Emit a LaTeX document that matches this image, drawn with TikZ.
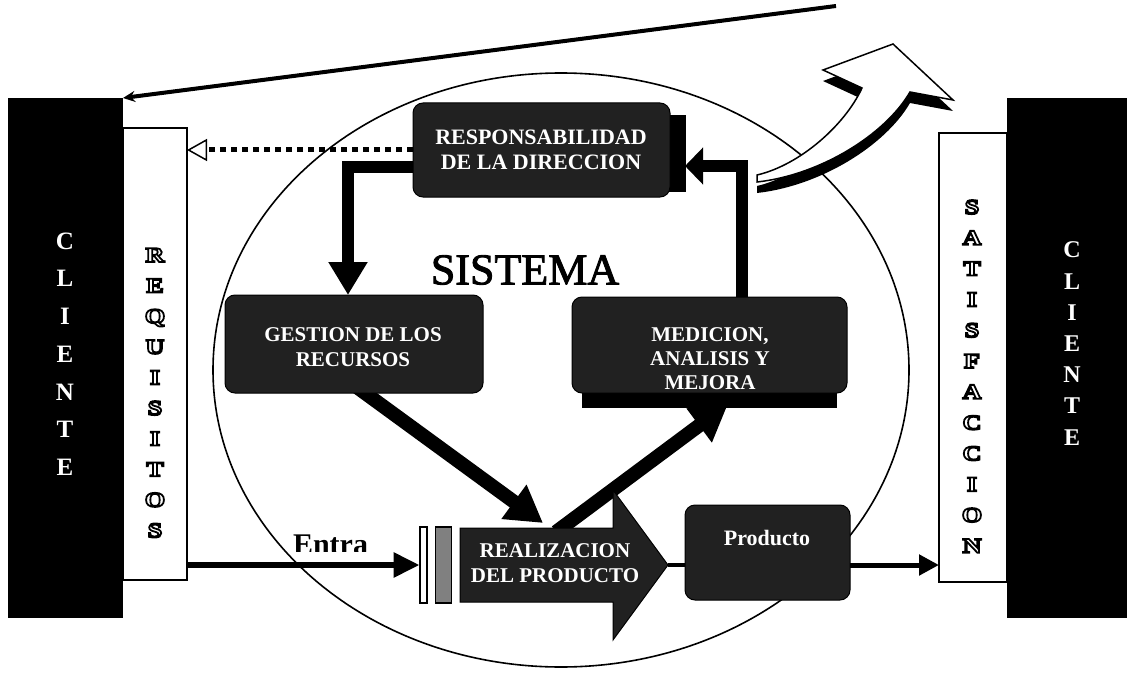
\documentclass[tikz,border=0pt]{standalone}
\usepackage{fontspec}
\setmainfont{Liberation Serif}
\usetikzlibrary{arrows.meta,shapes.geometric}

\definecolor{boxdark}{gray}{0.13}
\definecolor{bargray}{gray}{0.5}

% white letter with a black stroked outline (fill and stroke render mode)
\newcommand\hollowtxt[1]{%
  \textcolor{white}{\special{pdf:literal direct 2 Tr 1.8 w 0 G}#1\special{pdf:literal direct 0 Tr}}}
% heavier title lettering
\newcommand\heavytxt[1]{%
  {\special{pdf:literal direct 2 Tr 0.9 w}#1\special{pdf:literal direct 0 Tr}}}

\pgfdeclarelayer{bg}
\pgfdeclarelayer{back}
\pgfsetlayers{bg,back,main}

\begin{document}
\begin{tikzpicture}[x=1pt,y=-1pt,
  every node/.style={inner sep=0pt,outer sep=0pt},
  strip/.style={draw=black,line width=2pt,fill=white},
  darkbox/.style={draw=black,line width=1pt,fill=boxdark,rounded corners=10pt},
  boxlbl/.style={text=white,font=\bfseries\fontsize{21}{25}\selectfont,align=center},
  clletter/.style={text=white,font=\bfseries\fontsize{25}{25}\selectfont,text height=16.5pt,text depth=0pt},
  crletter/.style={text=white,font=\bfseries\fontsize{24}{24}\selectfont,text height=15.9pt,text depth=0pt},
  hollowletter/.style={font=\bfseries\fontsize{21}{21}\selectfont\addfontfeature{FakeStretch=1.25},text height=13.9pt,text depth=0pt},
  bigarrow/.style={line width=12pt,-{Triangle[length=33pt,width=37pt]}},
  diagarrow/.style={line width=14pt,-{Triangle[length=36pt,width=40pt]}},
  flow/.style={line width=5pt},
]
\useasboundingbox (0,0) rectangle (1127,674);

% the system boundary
\begin{pgfonlayer}{bg}
\node[draw=black,line width=1.6pt,ellipse,minimum width=696pt,minimum height=594pt] (sys) at (561,370) {};
\end{pgfonlayer}

% requirement and satisfaction strips
\node[strip,minimum width=64pt,minimum height=452pt] (req) at (155,354) {};
\node[strip,minimum width=68pt,minimum height=449pt] (sat) at (973,357.5) {};

% client columns
\node[fill=black,minimum width=115pt,minimum height=520pt] (cliL) at (65.5,358) {};
\node[fill=black,minimum width=120pt,minimum height=520pt] (cliR) at (1067,358) {};

\foreach \ch [count=\i from 0] in {C,L,I,E,N,T,E}
  \node[clletter] (cl\i) at (65,{241+37.7*\i}) {\ch};
\foreach \ch [count=\i from 0] in {C,L,I,E,N,T,E}
  \node[crletter] (cr\i) at (1072,{250+31.2*\i}) {\ch};
\foreach \ch [count=\i from 0] in {R,E,Q,U,I,S,I,T,O,S}
  \node[hollowletter] (rq\i) at (155,{255+30.6*\i}) {\hollowtxt{\ch}};
\foreach \ch [count=\i from 0] in {S,A,T,I,S,F,A,C,C,I,O,N}
  \node[hollowletter] (st\i) at (972,{207+30.8*\i}) {\hollowtxt{\ch}};

% process boxes
\fill[black] (600,115) rectangle (686,192);
\node[darkbox,minimum width=257pt,minimum height=94pt] (resp) at (541.5,150) {};
\node[darkbox,minimum width=258pt,minimum height=98pt] (gest) at (354,344) {};
\fill[black] (582,380) rectangle (837,408);
\node[darkbox,minimum width=275pt,minimum height=96pt] (med) at (709.5,345) {};
\node[darkbox,minimum width=165pt,minimum height=95pt] (prod) at (767.5,552.5) {};

% product realisation block arrow and input bars
\filldraw[fill=boxdark,draw=black,line width=1pt]
  (460,528) -- (613,528) -- (613,490) -- (668,565) -- (613,640) -- (613,602) -- (460,602) -- cycle;
\coordinate (realtip) at (668,565);
\coordinate (realIn) at (543,523);
\coordinate (realOut) at (556,532);
\coordinate (medIn) at (728,404);
\node[draw=black,line width=2pt,fill=white,minimum width=7pt,minimum height=76pt] (bar1) at (423,565) {};
\node[draw=black,line width=1.5pt,fill=bargray,minimum width=16pt,minimum height=76pt] (bar2) at (443.5,565) {};

% labels
\node[boxlbl,font=\bfseries\fontsize{22}{25}\selectfont] (resplbl) at (541,150) {RESPONSABILIDAD\\DE LA DIRECCION};
\node[boxlbl] (gestlbl) at (353,347) {GESTION DE LOS\\RECURSOS};
\node[boxlbl,font=\bfseries\fontsize{21}{24}\selectfont] (medlbl) at (710,359) {MEDICION,\\ANALISIS Y\\MEJORA};
\node[boxlbl] (reallbl) at (555,563) {REALIZACION\\DEL PRODUCTO};
\node[boxlbl,font=\bfseries\fontsize{22}{22}\selectfont] (prodlbl) at (767,538) {Producto};

\node[font=\fontsize{44}{44}\selectfont] (sistema) at (525,270) {\heavytxt{SISTEMA}};

\begin{scope}
  \clip (280,520) rectangle (390,551);
  \node[anchor=base west,font=\bfseries\fontsize{30}{30}\selectfont] (entra) at (293,554) {Entra};
\end{scope}

% connectors
\begin{pgfonlayer}{back}
\draw[line width=5pt,dash pattern=on 6pt off 5pt,
      -{Triangle[open,fill=white,length=20pt,width=22pt,line width=1.5pt]}]
  (resp.west) -- (req.east |- resp.west);
\draw[bigarrow] ([yshift=-17pt]resp.west) -| ([xshift=-6pt]gest.north);
\draw[line width=12pt,-{Triangle[length=18pt,width=36pt]}]
  ([xshift=32.5pt]med.north) |- ([xshift=15pt,yshift=-16pt]resp.east);
\draw[diagarrow] ([yshift=8pt]gest.south) -- (realIn);
\draw[diagarrow] (realOut) -- (medIn);
\draw[line width=6pt,-{Triangle[length=26pt,width=24pt]}] (req.east |- realtip) -- (bar1.west |- realtip);
\draw[line width=4pt] (realtip) -- (prod.west |- realtip);
\draw[flow,-{Triangle[length=20pt,width=20pt]}] (prod.east |- realtip) -- (sat.west |- realtip);
\end{pgfonlayer}

% feedback line to the client
\coordinate (topend) at (836,6);
\draw[line width=4pt,-{Stealth[length=12pt,width=11pt]}] (topend) -- (cliL.north east);

% improvement arrow rising out of the system
\fill[black] (757,186) .. controls (800,176) and (845,136) .. (862,99) -- (823,81) -- (893,55)
  -- (953,111) -- (910,103) .. controls (885,146) and (820,186) .. (757,193) -- cycle;
\filldraw[fill=white,draw=black,line width=1.5pt]
  (757,175) .. controls (800,165) and (845,125) .. (862,88) -- (823,70) -- (893,44)
  -- (953,100) -- (910,92) .. controls (885,135) and (820,175) .. (757,182) -- cycle;
\end{tikzpicture}
\end{document}
